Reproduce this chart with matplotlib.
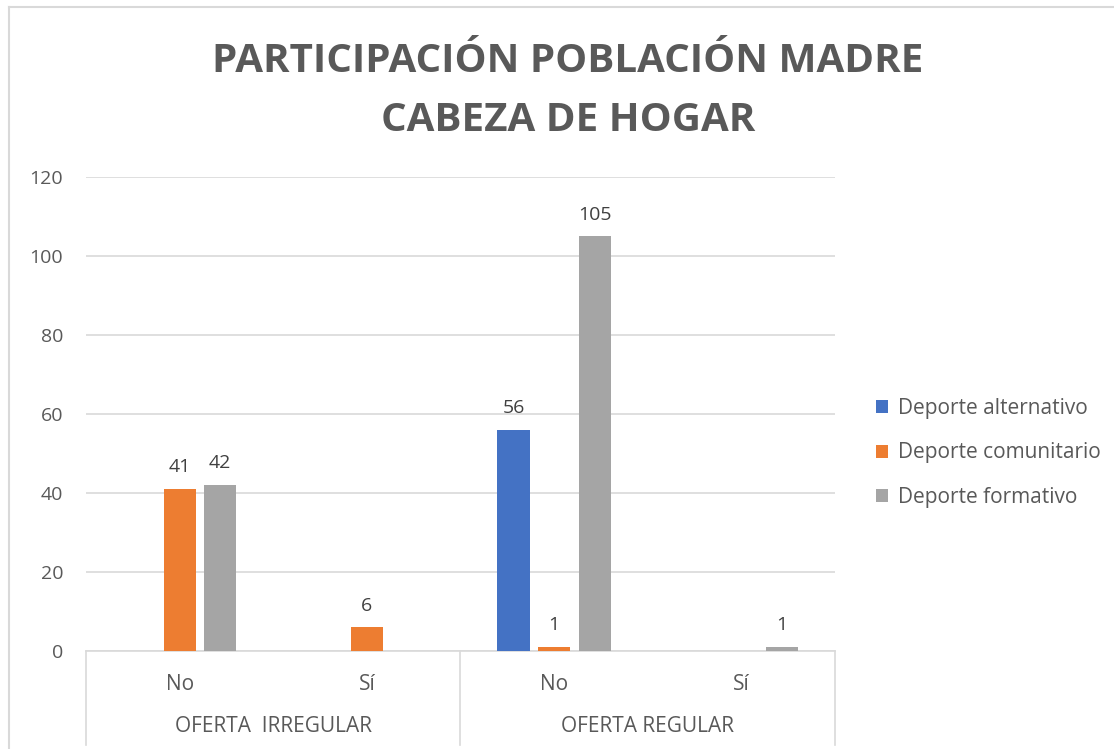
import matplotlib
matplotlib.use("Agg")
import matplotlib.pyplot as plt
import numpy as np
from matplotlib.lines import Line2D

plt.rcParams['font.family'] = ['Open Sans', 'DejaVu Sans']

title = "PARTICIPACIÓN POBLACIÓN MADRE\nCABEZA DE HOGAR"
groups = ["OFERTA  IRREGULAR", "OFERTA REGULAR"]
subcats = ["No", "Sí", "No", "Sí"]
series_names = ["Deporte alternativo", "Deporte comunitario", "Deporte formativo"]
alternativo = [np.nan, np.nan, 56, np.nan]
comunitario = [41, 6, 1, np.nan]
formativo = [42, np.nan, 105, 1]
colors = ["#4472C4", "#ED7D31", "#A5A5A5"]
yticks = [0, 20, 40, 60, 80, 100, 120]

W, H = 1114, 749
fig = plt.figure(figsize=(W / 100, H / 100), dpi=100)
fig.patch.set_facecolor("white")

# chart border (top and left edges visible)
border = "#D9D9D9"
fig.add_artist(Line2D([8.5 / W, 1.0], [1 - 6.5 / H, 1 - 6.5 / H], transform=fig.transFigure,
                      color=border, lw=1.5))
fig.add_artist(Line2D([8.5 / W, 8.5 / W], [0, 1 - 6.5 / H], transform=fig.transFigure,
                      color=border, lw=1.5))

ax = fig.add_axes([86 / W, 1 - 651 / H, (835 - 86) / W, (651 - 177) / H])
x = np.arange(len(subcats))
width = 0.172
offset = 0.217
text_color = "#595959"
for i, (name, vals, c) in enumerate(zip(series_names, [alternativo, comunitario, formativo], colors)):
    xs = x + (i - 1) * offset
    ax.bar(xs, vals, width=width, color=c, label=name, zorder=3)
    for xi, v in zip(xs, vals):
        if not np.isnan(v):
            ax.text(xi, v + 3.2, f"{int(v)}", ha="center", va="bottom", fontsize=14, color="#404040")

ax.set_xlim(-0.5, len(subcats) - 0.5)
ax.set_ylim(0, 120)
ax.set_yticks(yticks)
ax.yaxis.grid(True, color="#D9D9D9", lw=1.2, zorder=0)
ax.tick_params(axis="y", length=0, labelsize=14, labelcolor=text_color, pad=16.5)
ax.set_xticks([])
for s in ["top", "right", "left"]:
    ax.spines[s].set_visible(False)
ax.spines["bottom"].set_color("#D9D9D9")
ax.spines["bottom"].set_linewidth(1.2)

# multi-level category axis
trans = ax.get_xaxis_transform()
for xb in [-0.5, 1.5, 3.5]:
    ax.add_line(Line2D([xb, xb], [0, -(745 - 651) / (651 - 177)], transform=trans,
                       color="#D9D9D9", lw=1.2, clip_on=False))
for xi, lab in zip(x, subcats):
    ax.text(xi, -(684 - 651) / (651 - 177), lab, transform=trans, ha="center", va="center",
            fontsize=15, color=text_color)
for gi, g in enumerate(groups):
    ax.text(gi * 2 + 0.5, -(727 - 651) / (651 - 177), g, transform=trans, ha="center", va="center",
            fontsize=15, color=text_color)

fig.text(568 / W, 1 - 91 / H, title, ha="center", va="center", fontsize=29, fontweight="bold",
         color=text_color, linespacing=1.65)

leg = ax.legend(loc="center left", bbox_to_anchor=(857 / W, 1 - 453 / H), bbox_transform=fig.transFigure,
                frameon=False, fontsize=15, labelspacing=1.12, handlelength=0.6, handleheight=0.6,
                handletextpad=0.45)
for t in leg.get_texts():
    t.set_color(text_color)

fig.savefig("out.png", dpi=100)
